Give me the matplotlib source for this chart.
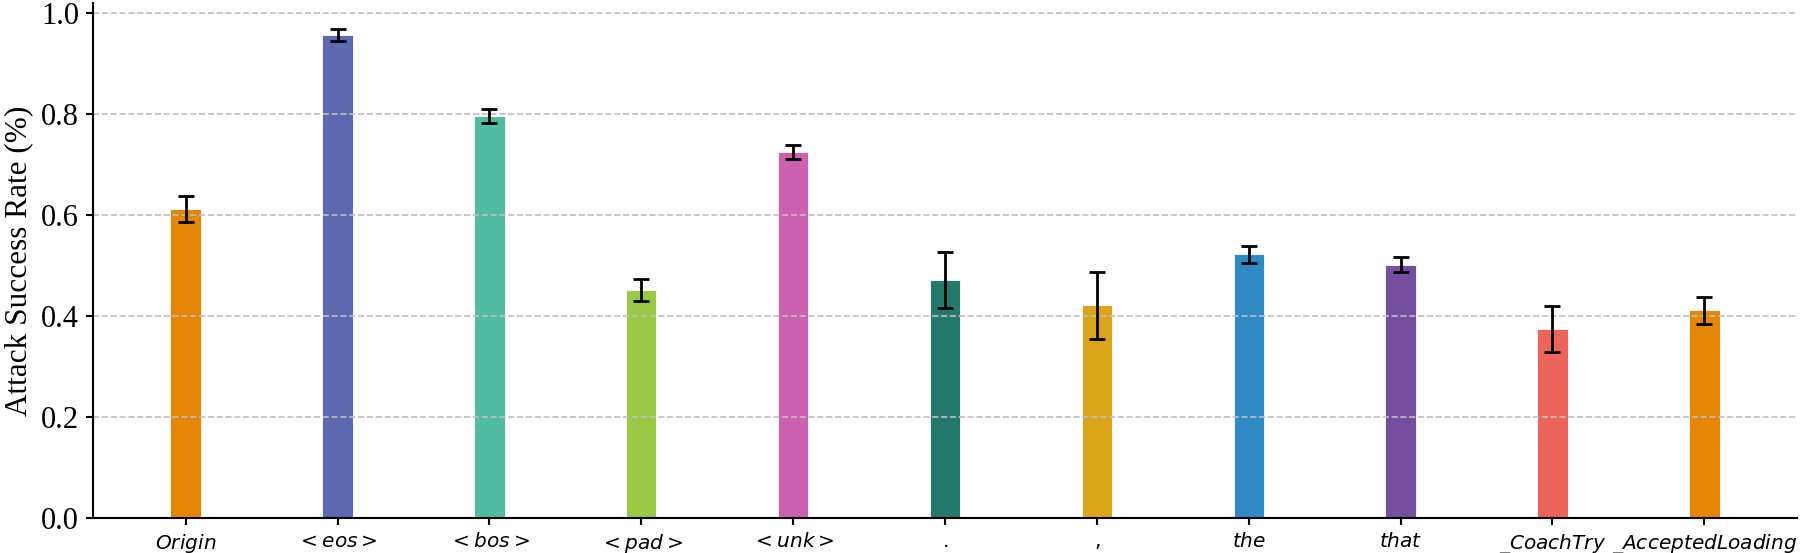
import numpy as np
import matplotlib.pyplot as plt

# datos
labels = [r'$Origin$', r'$<eos>$', r'$<bos>$', r'$<pad>$', r'$<unk>$',
          r'$.$', r'$,$', r'$the$', r'$that$', r'$\_CoachTry$', r'$\_AcceptedLoading$']
asr = [0.612, 0.956, 0.796, 0.451, 0.725, 0.471, 0.421, 0.522, 0.502, 0.374, 0.411]
err = [0.026, 0.012, 0.014, 0.022, 0.013, 0.056, 0.066, 0.016, 0.014, 0.045, 0.026]

# paleta tipo CARTO Vivid (se repite el naranja al final)
colors = ['#E58606', '#5D69B1', '#52BCA3', '#99C945', '#CC61B0',
          '#24796C', '#DAA51B', '#2F8AC4', '#764E9F', '#ED645A', '#E58606']

plt.rcParams['mathtext.fontset'] = 'dejavusans'
serif = ['Liberation Serif', 'DejaVu Serif']

fig = plt.figure(figsize=(18, 5.53), dpi=100)
ax = fig.add_axes([93 / 1800, 1 - 518 / 553, (1797 - 93) / 1800, (518 - 3) / 553])

x = np.arange(len(labels))
ax.bar(x, asr, width=0.2, color=colors, edgecolor='white', linewidth=0.6)
ax.errorbar(x, asr, yerr=err, fmt='none', ecolor='black', elinewidth=2,
            capsize=6, capthick=2)

ax.set_xticks(x)
ax.set_xticklabels(labels, fontsize=14.5)
ax.set_ylim(0, 1.02)
ax.set_yticks([0.0, 0.2, 0.4, 0.6, 0.8, 1.0])
ax.set_yticklabels(['0.0', '0.2', '0.4', '0.6', '0.8', '1.0'],
                   family=serif, fontsize=22)
ax.set_ylabel('Attack Success Rate (%)', family=serif, fontsize=22.5, labelpad=6)

ax.tick_params(axis='both', length=5, width=1.5, pad=5)
ax.yaxis.grid(True, linestyle='--', color='#bfbfbf', linewidth=1.2)
for s in ['top', 'right']:
    ax.spines[s].set_visible(False)
for s in ['left', 'bottom']:
    ax.spines[s].set_linewidth(1.5)

fig.savefig('out.png', dpi=100)
